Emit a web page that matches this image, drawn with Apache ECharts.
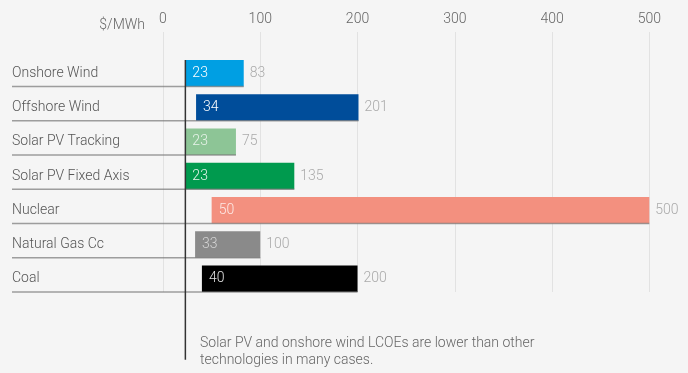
<!DOCTYPE html>
<html>
<head>
<meta charset="utf-8">
<script src="https://cdn.jsdelivr.net/npm/echarts@6/dist/echarts.min.js"></script>
<style>
  html, body { margin: 0; padding: 0; background: #f5f5f5; }
  #chart { width: 688px; height: 373px; }
</style>
</head>
<body>
<div id="chart"></div>
<script>
// ---- data ----
const categories = ['Onshore Wind', 'Offshore Wind', 'Solar PV Tracking', 'Solar PV Fixed Axis', 'Nuclear', 'Natural Gas Cc', 'Coal'];
const minValues = [23, 34, 23, 23, 50, 33, 40];
const maxValues = [83, 201, 75, 135, 500, 100, 200];
const xTicks = [0, 100, 200, 300, 400, 500];
const markerValue = 23;
const unitLabel = '$/MWh';
const noteText = 'Solar PV and onshore wind LCOEs are lower than other\ntechnologies in many cases.';

// ---- styles ----
const barColors = ['#009fe3', '#004d9a', '#8dc596', '#009a4e', '#f3907f', '#8a8a8a', '#000000'];
const innerLabelColors = ['#ffffff', '#ffffff', '#e8f3ea', '#e6f5ec', '#fde9e5', '#d6d6d6', '#e0e0e0'];
const FONT = 'Roboto, "Liberation Sans", sans-serif';
const BAR_W = 26.5;

const chart = echarts.init(document.getElementById('chart'), null, { renderer: 'canvas' });

const spanData = categories.map((c, i) => ({
  value: maxValues[i] - minValues[i],
  itemStyle: { color: barColors[i] },
  label: { color: innerLabelColors[i] }
}));

const option = {
  backgroundColor: '#f5f5f5',
  animation: false,
  title: [
    {
      text: unitLabel,
      right: 538,
      top: 12,
      textStyle: { fontFamily: FONT, fontWeight: 300, fontSize: 14, lineHeight: 16, color: '#666' }
    },
    {
      text: noteText,
      left: 195,
      top: 330,
      textStyle: { fontFamily: FONT, fontWeight: 300, fontSize: 14, lineHeight: 17, color: '#666' }
    }
  ],
  grid: [
    { left: 163, right: 38.7, top: 32, bottom: 81 },
    { left: 163, right: 38.7, top: 56.2, height: 239.6 }
  ],
  xAxis: [
    {
      gridIndex: 0, type: 'value', position: 'top', min: 0, max: 500, interval: 100,
      axisLine: { show: false }, axisTick: { show: false },
      axisLabel: { margin: 6, fontFamily: FONT, fontWeight: 300, fontSize: 14, color: '#666',
        formatter: v => xTicks.indexOf(v) >= 0 ? String(v) : '' },
      splitLine: { lineStyle: { color: '#e2e2e2', width: 1 } }
    },
    {
      gridIndex: 1, type: 'value', min: 0, max: 500, show: false
    }
  ],
  yAxis: [
    { gridIndex: 0, type: 'value', show: false },
    {
      gridIndex: 1, type: 'category', data: categories, inverse: true,
      axisLine: { show: false }, axisTick: { show: false },
      axisLabel: { align: 'left', margin: 151, fontFamily: FONT, fontWeight: 300, fontSize: 14, color: '#555' },
      splitLine: { show: false }
    }
  ],
  series: [
    {
      name: 'base', type: 'bar', stack: 'r', xAxisIndex: 1, yAxisIndex: 1,
      barWidth: BAR_W, itemStyle: { color: 'transparent' }, data: minValues, silent: true
    },
    {
      name: 'range', type: 'bar', stack: 'r', xAxisIndex: 1, yAxisIndex: 1,
      barWidth: BAR_W, data: spanData,
      label: {
        show: true, position: 'insideLeft', distance: 7,
        fontFamily: FONT, fontWeight: 300, fontSize: 14,
        formatter: p => String(minValues[p.dataIndex])
      }
    },
    {
      name: 'rows', type: 'custom', xAxisIndex: 1, yAxisIndex: 1, clip: false, z: 5,
      data: categories.map((c, i) => [minValues[i], maxValues[i], i]),
      encode: { x: [0, 1], y: 2 },
      renderItem: function (params, api) {
        const idx = api.value(2);
        const end = api.coord([api.value(1), idx]);
        const yb = end[1] + BAR_W / 2;
        const x0 = params.coordSys.x - 151;
        return {
          type: 'group',
          children: [
            { type: 'line', shape: { x1: x0, y1: yb, x2: end[0], y2: yb },
              style: { stroke: 'rgba(120,120,120,0.7)', lineWidth: 1.5 } },
            { type: 'text', x: end[0] + 6, y: end[1],
              style: { text: String(api.value(1)), fill: '#aaa', fontFamily: FONT, fontWeight: 300, fontSize: 14,
                verticalAlign: 'middle', align: 'left' } }
          ]
        };
      }
    },
    {
      name: 'marker', type: 'custom', xAxisIndex: 1, yAxisIndex: 1, clip: false, z: 6,
      data: [[markerValue, 0]],
      encode: { x: 0, y: 1 },
      renderItem: function (params, api) {
        const top = api.coord([api.value(0), api.value(1)]);
        const y1 = top[1] - BAR_W / 2;
        const y2 = params.coordSys.y + params.coordSys.height + 64;
        return { type: 'line', shape: { x1: top[0], y1: y1, x2: top[0], y2: y2 },
          style: { stroke: '#333', lineWidth: 1.5 } };
      }
    }
  ]
};

chart.setOption(option);
</script>
</body>
</html>
